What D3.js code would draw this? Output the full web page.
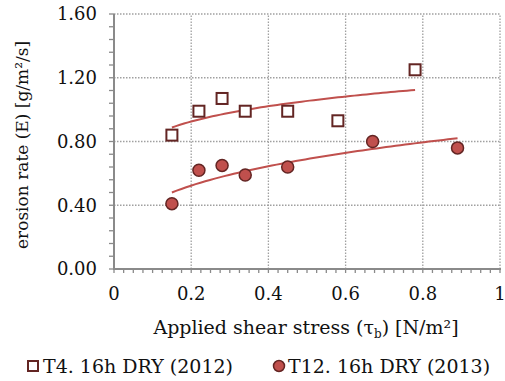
<!DOCTYPE html>
<html>
<head>
<meta charset="utf-8">
<script src="https://cdn.jsdelivr.net/npm/d3@7"></script>
<style>
  body { margin: 0; background: #fff; }
  text { font-family: "DejaVu Serif", serif; fill: #111; }
</style>
</head>
<body>
<script>
// data
var t4X  = [0.15, 0.22, 0.28, 0.34, 0.45, 0.58, 0.78];
var t4Y  = [0.84, 0.99, 1.07, 0.99, 0.99, 0.93, 1.25];
var t12X = [0.15, 0.22, 0.28, 0.34, 0.45, 0.67, 0.89];
var t12Y = [0.41, 0.62, 0.65, 0.59, 0.64, 0.80, 0.76];
var xTicks = [0, 0.2, 0.4, 0.6, 0.8, 1];
var yTicks = [0, 0.4, 0.8, 1.2, 1.6];
var seriesNames = ['T4. 16h DRY (2012)', 'T12. 16h DRY (2013)'];

var width = 505, height = 381;
var margin = {left: 114, right: 5, top: 14, bottom: 112};

var red = '#c0504d', darkRed = '#632523', gridCol = '#a0a0a0', axisCol = '#8a8a8a';

var svg = d3.select('body').append('svg')
	.attr('width', width)
	.attr('height', height);

var x = d3.scaleLinear().domain([0, 1]).range([margin.left, width - margin.right]);
var y = d3.scaleLinear().domain([0, 1.6]).range([height - margin.bottom, margin.top]);

// grid
svg.append('g').selectAll('line').data(xTicks.slice(1)).enter()
	.append('line')
	.attr('x1', function (d) { return x(d); }).attr('x2', function (d) { return x(d); })
	.attr('y1', y(0)).attr('y2', y(1.6))
	.attr('stroke', gridCol).attr('stroke-width', 1.3).attr('stroke-dasharray', '1.5,1.5');
svg.append('g').selectAll('line').data(yTicks.slice(1)).enter()
	.append('line')
	.attr('y1', function (d) { return y(d); }).attr('y2', function (d) { return y(d); })
	.attr('x1', x(0)).attr('x2', x(1))
	.attr('stroke', gridCol).attr('stroke-width', 1.3).attr('stroke-dasharray', '1.5,1.5');

// axes
var xMinor = d3.range(0, 1.0001, 0.025);
var yMinor = d3.range(0, 1.6001, 0.08);

var xAxis = svg.append('g').attr('transform', 'translate(0,' + y(0) + ')');
xAxis.selectAll('line.tick').data(xMinor).enter()
	.append('line')
	.attr('x1', function (d) { return x(d); }).attr('x2', function (d) { return x(d); })
	.attr('y1', 0).attr('y2', 4)
	.attr('stroke', axisCol).attr('stroke-width', 1.3);
xAxis.append('line').attr('x1', x(0) - 1).attr('x2', x(1) + 1)
	.attr('stroke', axisCol).attr('stroke-width', 2);
xAxis.selectAll('text').data(xTicks).enter()
	.append('text')
	.attr('x', function (d) { return x(d); })
	.attr('y', 31)
	.attr('text-anchor', 'middle')
	.attr('font-size', 18)
	.text(function (d) { return d3.format('')(d); });

var yAxis = svg.append('g').attr('transform', 'translate(' + x(0) + ',0)');
yAxis.selectAll('line.tick').data(yMinor).enter()
	.append('line')
	.attr('y1', function (d) { return y(d); }).attr('y2', function (d) { return y(d); })
	.attr('x1', -5).attr('x2', 0)
	.attr('stroke', axisCol).attr('stroke-width', 1.3);
yAxis.append('line').attr('y1', y(0) + 1).attr('y2', y(1.6))
	.attr('stroke', axisCol).attr('stroke-width', 2);
yAxis.selectAll('text').data(yTicks).enter()
	.append('text')
	.attr('x', -17)
	.attr('y', function (d) { return y(d); })
	.attr('dy', '0.35em')
	.attr('text-anchor', 'end')
	.attr('font-size', 18)
	.text(function (d) { return d3.format('.2f')(d); });

// axis titles
var xt = svg.append('text')
	.attr('x', 306).attr('y', 334)
	.attr('text-anchor', 'middle')
	.attr('font-size', 19);
xt.append('tspan').text('Applied shear stress (τ');
xt.append('tspan').attr('font-size', 12).attr('dy', 4).text('b');
xt.append('tspan').attr('dy', -4).text(') [N/m²]');

svg.append('text')
	.attr('transform', 'translate(28,' + 145 + ') rotate(-90)')
	.attr('text-anchor', 'middle')
	.attr('font-size', 17)
	.text('erosion rate (E) [g/m²/s]');

// power trendline (least squares in log-log space)
function powerFit(xs, ys) {
	var lx = xs.map(Math.log), ly = ys.map(Math.log);
	var mx = d3.mean(lx), my = d3.mean(ly);
	var sxy = d3.sum(lx, function (v, i) { return (v - mx) * (ly[i] - my); });
	var sxx = d3.sum(lx, function (v) { return (v - mx) * (v - mx); });
	var b = sxy / sxx;
	var a = Math.exp(my - b * mx);
	return function (v) { return a * Math.pow(v, b); };
}

function trend(xs, ys) {
	var f = powerFit(xs, ys);
	var pts = d3.range(0, 61).map(function (i) {
		var v = d3.min(xs) + (d3.max(xs) - d3.min(xs)) * i / 60;
		return [v, f(v)];
	});
	svg.append('path')
		.attr('d', d3.line().x(function (d) { return x(d[0]); }).y(function (d) { return y(d[1]); })(pts))
		.attr('fill', 'none')
		.attr('stroke', red)
		.attr('stroke-width', 2);
}
trend(t4X, t4Y);
trend(t12X, t12Y);

// markers
svg.append('g').selectAll('rect').data(d3.zip(t4X, t4Y)).enter()
	.append('rect')
	.attr('x', function (d) { return x(d[0]) - 5.5; })
	.attr('y', function (d) { return y(d[1]) - 5.5; })
	.attr('width', 11).attr('height', 11)
	.attr('fill', '#fff')
	.attr('stroke', darkRed).attr('stroke-width', 2);

svg.append('g').selectAll('circle').data(d3.zip(t12X, t12Y)).enter()
	.append('circle')
	.attr('cx', function (d) { return x(d[0]); })
	.attr('cy', function (d) { return y(d[1]); })
	.attr('r', 6)
	.attr('fill', red)
	.attr('stroke', darkRed).attr('stroke-width', 1.5);

// legend
var lg = svg.append('g').attr('transform', 'translate(0,366)');
lg.append('rect').attr('x', 28).attr('y', -5).attr('width', 10).attr('height', 10)
	.attr('fill', '#fff').attr('stroke', darkRed).attr('stroke-width', 2);
lg.append('text').attr('x', 43).attr('y', 0).attr('dy', '0.35em').attr('font-size', 19).text(seriesNames[0]);
lg.append('circle').attr('cx', 279).attr('cy', 0).attr('r', 5.5)
	.attr('fill', red).attr('stroke', darkRed).attr('stroke-width', 1.5);
lg.append('text').attr('x', 288).attr('y', 0).attr('dy', '0.35em').attr('font-size', 19).text(seriesNames[1]);
</script>
</body>
</html>
